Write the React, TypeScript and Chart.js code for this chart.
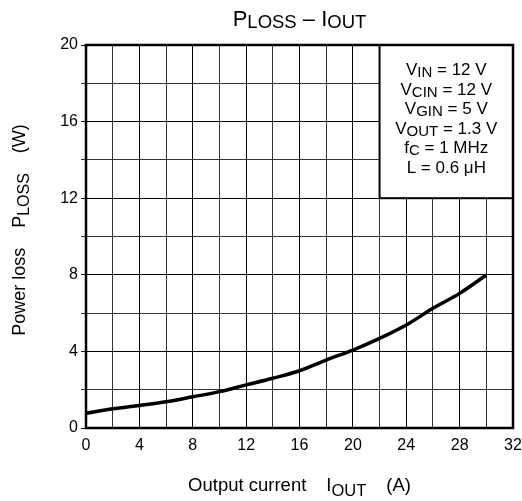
import React, { useEffect, useRef } from "react";
import { Chart, registerables } from "chart.js";

Chart.register(...registerables);

const currentA = [0, 2, 4, 6, 8, 10, 12, 14, 16, 18, 20, 22, 24, 26, 28, 30];
const powerLossW = [0.77, 1.0, 1.18, 1.37, 1.63, 1.9, 2.25, 2.6, 2.99, 3.55, 4.07, 4.68, 5.38, 6.25, 7.03, 7.99];

// conditions: [main, subscript, rest]
const conditions: [string, string, string][] = [
  ["V", "IN", " = 12 V"],
  ["V", "CIN", " = 12 V"],
  ["V", "GIN", " = 5 V"],
  ["V", "OUT", " = 1.3 V"],
  ["f", "C", " = 1 MHz"],
  ["L = 0.6 \u03bcH", "", ""],
];

const FONT = '"Liberation Sans", Arial, sans-serif';

type Part = { t: string; sub?: boolean; gap?: number };

function drawParts(ctx: CanvasRenderingContext2D, parts: Part[], cx: number, y: number, size: number, subSize: number, subDy: number) {
  const widths = parts.map((p) => {
    if (p.gap !== undefined) return p.gap;
    ctx.font = `${p.sub ? subSize : size}px ${FONT}`;
    return ctx.measureText(p.t).width;
  });
  const total = widths.reduce((a, b) => a + b, 0);
  let x = cx - total / 2;
  ctx.textAlign = "left";
  ctx.textBaseline = "alphabetic";
  parts.forEach((p, i) => {
    if (p.gap === undefined) {
      ctx.font = `${p.sub ? subSize : size}px ${FONT}`;
      ctx.fillText(p.t, x, y + (p.sub ? subDy : 0));
    }
    x += widths[i];
  });
}

const overlay = {
  id: "overlay",
  afterDatasetsDraw(chart: any) {
    const ctx: CanvasRenderingContext2D = chart.ctx;
    const { left, right, top, bottom } = chart.chartArea;
    const xs = chart.scales.x;
    const ys = chart.scales.y;
    ctx.save();
    // conditions box
    const bx0 = xs.getPixelForValue(22);
    const bx1 = xs.getPixelForValue(32);
    const by0 = ys.getPixelForValue(20);
    const by1 = ys.getPixelForValue(12);
    ctx.fillStyle = "#fff";
    ctx.fillRect(bx0, by0, bx1 - bx0, by1 - by0);
    ctx.strokeStyle = "#000";
    ctx.lineWidth = 2;
    ctx.strokeRect(bx0, by0, bx1 - bx0, by1 - by0);
    ctx.fillStyle = "#000";
    const cx = (bx0 + bx1) / 2;
    conditions.forEach(([a, s, r], i) => {
      drawParts(ctx, [{ t: a }, { t: s, sub: true }, { t: r }], cx, by0 + 30 + i * 19.5, 17, 15, 2);
    });
    // frame
    ctx.lineWidth = 2.5;
    ctx.strokeRect(left, top, right - left, bottom - top);
    // title
    drawParts(ctx, [{ t: "P" }, { t: "LOSS", sub: true }, { t: " \u2013 I" }, { t: "OUT", sub: true }], (left + right) / 2, 26, 22, 18.5, 2);
    // x title
    drawParts(
      ctx,
      [{ t: "Output current" }, { t: "", gap: 20 }, { t: "I" }, { t: "OUT", sub: true }, { t: "", gap: 20 }, { t: "(A)" }],
      (left + right) / 2,
      491,
      18.5,
      16.5,
      5
    );
    // y title
    ctx.save();
    ctx.translate(25, 230);
    ctx.rotate(-Math.PI / 2);
    drawParts(
      ctx,
      [{ t: "Power loss" }, { t: "", gap: 20 }, { t: "P" }, { t: "LOSS", sub: true }, { t: "", gap: 20 }, { t: "(W)" }],
      0,
      0,
      18,
      16,
      4
    );
    ctx.restore();
    ctx.restore();
  },
};

export default function App() {
  const ref = useRef<HTMLCanvasElement>(null);
  useEffect(() => {
    const gridColor = (c: any) => (c.tick && c.tick.value % 4 === 0 ? "#000" : "#333");
    const chart = new Chart(ref.current!, {
      type: "line",
      data: {
        datasets: [
          {
            data: currentA.map((x, i) => ({ x, y: powerLossW[i] })),
            borderColor: "#000",
            borderWidth: 3.5,
            pointRadius: 0,
            cubicInterpolationMode: "monotone",
            fill: false,
          },
        ],
      },
      options: {
        animation: false,
        responsive: false,
        maintainAspectRatio: false,
        layout: { padding: { left: 0, right: 9, top: 45, bottom: 0 } },
        plugins: { legend: { display: false }, tooltip: { enabled: false }, title: { display: false } },
        scales: {
          x: {
            type: "linear",
            min: 0,
            max: 32,
            afterFit: (s: any) => {
              s.height = 73;
              s.paddingLeft = 0;
              s.paddingRight = 0;
            },
            ticks: {
              stepSize: 2,
              autoSkip: false,
              maxRotation: 0,
              padding: 8,
              color: "#000",
              font: { family: FONT, size: 16 },
              callback: (v: any) => (Number(v) % 4 === 0 ? String(v) : ""),
            },
            grid: { color: gridColor, lineWidth: 1, drawTicks: false },
            border: { display: false },
          },
          y: {
            type: "linear",
            min: 0,
            max: 20,
            afterFit: (s: any) => {
              s.width = 86;
              s.paddingTop = 0;
              s.paddingBottom = 0;
            },
            ticks: {
              stepSize: 2,
              autoSkip: false,
              padding: 3,
              color: "#000",
              font: { family: FONT, size: 16 },
              callback: (v: any) => (Number(v) % 4 === 0 ? String(v) : ""),
            },
            grid: { color: gridColor, lineWidth: 1, drawTicks: true, tickLength: 5 },
            border: { display: false },
          },
        },
      },
      plugins: [overlay],
    });
    return () => chart.destroy();
  }, []);
  return (
    <div style={{ position: "fixed", left: 0, top: 0, width: 522, height: 501, background: "#fff" }}>
      <canvas ref={ref} width={522} height={501} style={{ width: 522, height: 501, display: "block" }} />
    </div>
  );
}
